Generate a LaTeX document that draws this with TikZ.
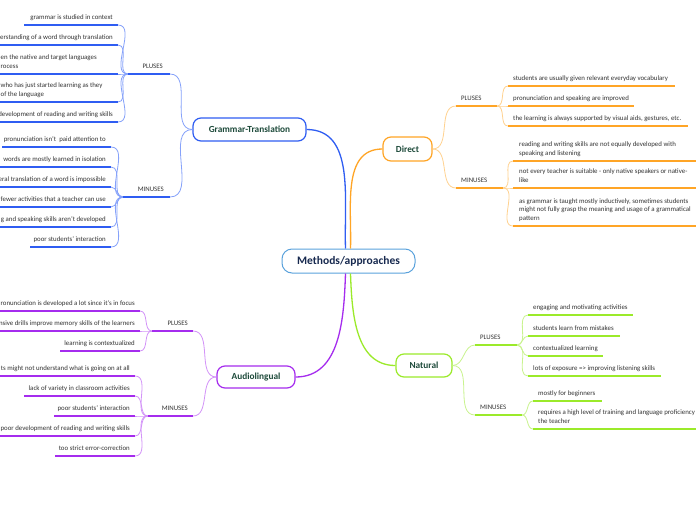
\documentclass[tikz,border=0pt]{standalone}
\usepackage{fontspec}
\setmainfont{Carlito}
\definecolor{GTm}{HTML}{2F5DF2}
\definecolor{GTl}{HTML}{86A2FA}
\definecolor{DIm}{HTML}{FFA526}
\definecolor{DIl}{HTML}{FFD290}
\definecolor{NAm}{HTML}{9BEA2A}
\definecolor{NAl}{HTML}{C9F38E}
\definecolor{ALm}{HTML}{A52CEE}
\definecolor{ALl}{HTML}{D393F8}
\definecolor{CEb}{HTML}{5AA2DC}
\definecolor{ntxt}{HTML}{1D4A3A}
\definecolor{ctxt}{HTML}{17294F}
\definecolor{txt}{HTML}{333333}
\begin{document}
\begin{tikzpicture}[x=1pt,y=-1pt,
  font=\fontsize{6.85}{8.6}\selectfont,
  itemL/.style={anchor=south east, align=right, inner xsep=5pt, inner ysep=3.0pt,
    text=txt, execute at end node=\strut},
  itemW/.style={anchor=south west, align=left, inner xsep=0.5pt, inner ysep=3.0pt,
    text=txt, execute at end node=\strut},
  itemR/.style={anchor=south west, align=left, inner xsep=5pt, inner ysep=3.0pt,
    text=txt, execute at end node=\strut},
  ul/.style={line width=1.4pt},
  sc/.style={line width=0.8pt},
  mc/.style={line width=1.3pt},
  mnode/.style={draw, rounded corners=8pt, line width=1.2pt, fill=white,
    font=\fontsize{9.3}{11}\selectfont\bfseries, text=ntxt, inner sep=0pt},
]
\useasboundingbox (0,0) rectangle (696,520);
\clip (0,0) rectangle (696,520);
\fill[white] (0,0) rectangle (696,520);

% main nodes
\node[draw=CEb, line width=1pt, rounded corners=10pt, fill=white, minimum width=133pt,
  minimum height=24pt, inner sep=0pt, font=\fontsize{11.5}{13}\selectfont\bfseries, text=ctxt]
  (c) at (348.5,261) {Methods/approaches};
\node[mnode, draw=GTm, minimum width=113pt, minimum height=23pt] (gt) at (249.5,129.5) {Grammar-Translation};
\node[mnode, draw=DIm, minimum width=49pt, minimum height=24pt] (di) at (407.5,149) {Direct};
\node[mnode, draw=NAm, minimum width=56pt, minimum height=23pt] (na) at (424,365.5) {Natural};
\node[mnode, draw=ALm, minimum width=78pt, minimum height=22pt] (al) at (256,377) {Audiolingual};

\draw[mc, GTm] ([xshift=-3pt]c.north) to[out=92, in=0] (gt.east);
\draw[mc, DIm] ([xshift=2pt]c.north) to[out=88, in=180] (di.west);
\draw[mc, ALm] ([xshift=-3pt]c.south) to[out=-92, in=0] (al.east);
\draw[mc, NAm] ([xshift=2pt]c.south) to[out=-88, in=180] (na.west);

% ---------- Grammar-Translation ----------
\node[itemL, inner xsep=7pt] (gtp) at (170,74) {PLUSES};
\coordinate (gtpl) at (128,74);
\node[itemL, inner xsep=6pt] (gtm) at (170,197) {MINUSES};
\coordinate (gtml) at (123,197);
\node[itemL] (p1) at (118,25) {grammar is studied in context};
\coordinate (p1l) at (24,25);
\node[itemL] (p2) at (118,45) {erstanding of a word through translation};
\coordinate (p2l) at (0,45);
\node[itemW] (p3) at (0,74) {en the native and target languages\\rocess};
\coordinate (p3r) at (118,74);
\node[itemW] (p4) at (0,102) {who has just started learning as they\\of the language};
\coordinate (p4r) at (118,102);
\node[itemL] (p5) at (118,122) {development of reading and writing skills};
\coordinate (p5l) at (0,122);
\node[itemL] (m1) at (111,147) {pronunciation isn't\ \ paid attention to};
\coordinate (m1l) at (2,147);
\node[itemL] (m2) at (111,167) {words are mostly learned in isolation};
\coordinate (m2l) at (0,167);
\node[itemL] (m3) at (111,187) {eral translation of a word is impossible};
\coordinate (m3l) at (0,187);
\node[itemL] (m4) at (111,207) {fewer activities that a teacher can use};
\coordinate (m4l) at (0,207);
\node[itemL] (m5) at (111,227) {g and speaking skills aren't developed};
\coordinate (m5l) at (0,227);
\node[itemL] (m6) at (111,247) {poor students' interaction};
\coordinate (m6l) at (30,247);
\foreach \n in {p1.south east,p2.south east,p3r,p4r,p5.south east}{\draw[sc,GTl] (gtpl) to[out=180,in=0] (\n);}
\foreach \n in {m1,m2,m3,m4,m5,m6}{\draw[sc,GTl] (gtml) to[out=180,in=0] (\n.south east);}
\draw[sc,GTl] (gt.west) to[out=180,in=0] (gtp.south east);
\draw[sc,GTl] (gt.west) to[out=180,in=0] (gtm.south east);
\draw[ul,GTm] (gtpl) -- (gtp.south east);
\draw[ul,GTm] (gtml) -- (gtm.south east);
\foreach \n in {p1,p2,p5,m1,m2,m3,m4,m5,m6}{\draw[ul,GTm] (\n l) -- (\n.south east);}
\draw[ul,GTm] (p3.south west) -- (p3r);
\draw[ul,GTm] (p4.south west) -- (p4r);

% ---------- Audiolingual ----------
\node[itemL] (alp) at (193,331) {PLUSES};
\coordinate (alpl) at (152,331);
\node[itemL] (alm) at (193,416) {MINUSES};
\coordinate (alml) at (148,416);
\node[itemL] (a1) at (140,311) {ronunciation is developed a lot since it's in focus};
\coordinate (a1l) at (0,311);
\node[itemL] (a2) at (140,331) {nsive drills improve memory skills of the learners};
\coordinate (a2l) at (0,331);
\node[itemL] (a3) at (140,351) {learning is contextualized};
\coordinate (a3l) at (60,351);
\node[itemL] (b1) at (135,376) {ts might not understand what is going on at all};
\coordinate (b1l) at (0,376);
\node[itemL] (b2) at (135,396) {lack of variety in classroom activities};
\coordinate (b2l) at (24,396);
\node[itemL] (b3) at (135,416) {poor students' interaction};
\coordinate (b3l) at (54,416);
\node[itemL] (b4) at (135,436) {poor development of reading and writing skills};
\coordinate (b4l) at (0,436);
\node[itemL] (b5) at (135,456) {too strict error-correction};
\coordinate (b5l) at (55,456);
\foreach \n in {a1,a2,a3}{\draw[sc,ALl] (alpl) to[out=180,in=0] (\n.south east);}
\foreach \n in {b1,b2,b3,b4,b5}{\draw[sc,ALl] (alml) to[out=180,in=0] (\n.south east);}
\draw[sc,ALl] (al.west) to[out=180,in=0] (alp.south east);
\draw[sc,ALl] (al.west) to[out=180,in=0] (alm.south east);
\foreach \n in {alp,alm,a1,a2,a3,b1,b2,b3,b4,b5}{\draw[ul,ALm] (\n l) -- (\n.south east);}

% ---------- Direct ----------
\node[itemR] (dp) at (456,106) {PLUSES};
\coordinate (dpr) at (497,106);
\node[itemR] (dm) at (456,188) {MINUSES};
\coordinate (dmr) at (503,188);
\node[itemR] (d1) at (508,86) {students are usually given relevant everyday vocabulary};
\coordinate (d1r) at (675,86);
\node[itemR] (d2) at (508,106) {pronunciation and speaking are improved};
\coordinate (d2r) at (634,106);
\node[itemR] (d3) at (508,126) {the learning is always supported by visual aids, gestures, etc.};
\coordinate (d3r) at (688,126);
\node[itemR, inner xsep=6pt] (e1) at (513,161) {reading and writing skills are not equally developed with\\speaking and listening};
\coordinate (e1r) at (700,161);
\node[itemR, inner xsep=6pt] (e2) at (513,188) {not every teacher is suitable - only native speakers or native-\\like};
\coordinate (e2r) at (700,188);
\node[itemR, inner xsep=6pt] (e3) at (513,226) {as grammar is taught mostly inductively, sometimes students\\might not fully grasp the meaning and usage of a grammatical\\pattern};
\coordinate (e3r) at (700,226);
\foreach \n in {d1,d2,d3}{\draw[sc,DIl] (dpr) to[out=0,in=180] (\n.south west);}
\foreach \n in {e1,e2,e3}{\draw[sc,DIl] (dmr) to[out=0,in=180] (\n.south west);}
\draw[sc,DIl] (di.east) to[out=0,in=180] (dp.south west);
\draw[sc,DIl] (di.east) to[out=0,in=180] (dm.south west);
\foreach \n in {dp,dm,d1,d2,d3,e1,e2,e3}{\draw[ul,DIm] (\n.south west) -- (\n r);}

% ---------- Natural ----------
\node[itemR] (np) at (475,345) {PLUSES};
\coordinate (npr) at (517,345);
\node[itemR] (nm) at (475,415) {MINUSES};
\coordinate (nmr) at (522,415);
\node[itemR] (n1) at (528,315) {engaging and motivating activities};
\coordinate (n1r) at (633,315);
\node[itemR] (n2) at (528,336) {students learn from mistakes};
\coordinate (n2r) at (620,336);
\node[itemR] (n3) at (528,356) {contextualized learning};
\coordinate (n3r) at (603,356);
\node[itemR] (n4) at (528,376) {lots of exposure => improving listening skills};
\coordinate (n4r) at (661,376);
\node[itemR] (o1) at (533,401) {mostly for beginners};
\coordinate (o1r) at (602,401);
\node[itemR] (o2) at (533,429) {requires a high level of training and language proficiency\\the teacher};
\coordinate (o2r) at (700,429);
\foreach \n in {n1,n2,n3,n4}{\draw[sc,NAl] (npr) to[out=0,in=180] (\n.south west);}
\foreach \n in {o1,o2}{\draw[sc,NAl] (nmr) to[out=0,in=180] (\n.south west);}
\draw[sc,NAl] (na.east) to[out=0,in=180] (np.south west);
\draw[sc,NAl] (na.east) to[out=0,in=180] (nm.south west);
\foreach \n in {np,nm,n1,n2,n3,n4,o1,o2}{\draw[ul,NAm] (\n.south west) -- (\n r);}
\end{tikzpicture}
\end{document}
